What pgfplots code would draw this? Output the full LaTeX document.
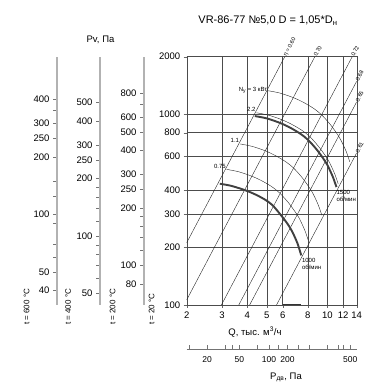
\documentclass[border=0pt]{standalone}
\usepackage{pgfplots}
\pgfplotsset{compat=1.18}
\usepackage{fontspec}
\setmainfont{Liberation Sans}
\pgfplotsset{
  auxaxis/.style={
    scale only axis, width=1pt, height=248.3pt, anchor=south west,
    xmin=0, xmax=1,
    axis x line=none, axis y line=left,
    y axis line style={-, draw=black!30, line width=1.1pt},
    tick align=outside, major tick length=4pt, minor tick length=4pt,
    tick style={black!55, line width=0.5pt},
    minor tick style={black!55, line width=0.5pt},
    yticklabel style={font=\fontsize{9.5}{10}\selectfont, black},
  }
}
\begin{document}
\begin{tikzpicture}[x=1pt,y=1pt]
\useasboundingbox (0,0) rectangle (388,391);
% t = 600 C
\begin{axis}[ymode=log, auxaxis, at={(57pt,86pt)}, ymin=33.56, ymax=671.2,
  ytick={40,50,100,200,250,300,400}, yticklabels={40,50,100,200,250,300,400},
  minor ytick={60,70,90,125,150,350}]
\end{axis}
% t = 400 C
\begin{axis}[ymode=log, auxaxis, at={(100pt,86pt)}, ymin=43.54, ymax=870.7,
  ytick={50,100,200,250,300,400,500}, yticklabels={50,100,200,250,300,400,500},
  minor ytick={60,70,80,90,120,140,160,180}]
\end{axis}
% t = 200 C
\begin{axis}[ymode=log, auxaxis, at={(144pt,86pt)}, ymin=61.95, ymax=1239,
  ytick={80,100,200,250,300,400,500,600,800}, yticklabels={80,100,200,250,300,400,500,600,800},
  minor ytick={120,140,160,180,700}]
\end{axis}
% main chart (t = 20 C)
\begin{axis}[
  at={(186.7pt,86pt)}, anchor=south west, scale only axis,
  width=170pt, height=248.3pt,
  xmode=log, ymode=log, xmin=2, xmax=14, ymin=100, ymax=2000,
  xtick={2,3,4,5,6,8,10,12,14}, xticklabels={2,3,4,5,6,8,10,12,14},
  ytick={100,200,300,400,600,800,1000,2000}, yticklabels={100,200,300,400,600,800,1000,2000},
  grid=major, major grid style={black!70, line width=0.4pt},
  axis line style={black!70, line width=0.4pt},
  xtick pos=bottom, ytick pos=left, tick align=outside, major tick length=3pt,
  tick style={black!60},
  ticklabel style={font=\fontsize{9.5}{10}\selectfont},
  clip mode=individual,
]
% efficiency rays
\addplot[black!85, line width=0.4pt] coordinates {(2,212) (6.143,2000)};
\addplot[black!85, line width=0.4pt] coordinates {(2,106.4) (8.67,2000)};
\addplot[black!85, line width=0.4pt] coordinates {(2.975,100) (13.30,2000)};
\addplot[black!85, line width=0.4pt] coordinates {(3.63,100) (14,1488)};
\addplot[black!85, line width=0.4pt] coordinates {(4.11,100) (14,1160)};
\addplot[black!85, line width=0.4pt] coordinates {(5.59,100) (14,627)};
\begin{scope}[every node/.style={rotate=62, anchor=west, inner sep=0.6pt, font=\fontsize{5.6}{6}\selectfont}]
\node at (axis cs:6.143,2000) {η = 0.60};
\node at (axis cs:8.67,2000) {0.70};
\node at (axis cs:13.30,2000) {0.72};
\node at (axis cs:14,1488) {0.68};
\node at (axis cs:14,1160) {0.65};
\node at (axis cs:14,627) {0.61};
\end{scope}
% thin power curves
\addplot[black!85, line width=0.4pt, smooth] coordinates {
 (5.08,1326) (5.825,1289) (6.77,1221) (7.57,1156) (8.50,1076) (9.32,997)
 (10.29,889) (11.07,801) (11.65,735) (12.41,638) (12.93,563)};
\addplot[black!85, line width=0.4pt, smooth] coordinates {
 (4.447,1016) (5.10,988) (5.926,936) (6.63,886) (7.446,825) (8.16,765)
 (9.007,681) (9.69,614) (10.2,564) (10.863,489) (11.322,432)};
\addplot[black!85, line width=0.4pt, smooth] coordinates {
 (3.684,698) (4.225,678) (4.909,643) (5.493,608) (6.169,566) (6.76,525)
 (7.461,468) (8.028,421) (8.45,387) (9.0,336) (9.38,296)};
\addplot[black!85, line width=0.4pt, smooth] coordinates {
 (3.161,513.5) (3.625,499) (4.212,473) (4.713,448) (5.293,417) (5.80,386)
 (6.402,344) (6.888,310) (7.25,285) (7.721,247) (8.048,218)};
% thick fan curves
\addplot[black!75, line width=1.9pt, smooth] coordinates {
 (4.36,977) (5.0,950) (5.81,900) (6.5,852) (7.3,793) (8.0,735)
 (8.83,655) (9.5,590) (10.0,542) (10.65,470) (11.1,415)};
\addplot[black!75, line width=1.9pt, smooth] coordinates {
 (2.92,432) (3.33,421) (3.89,400) (4.33,382) (4.87,358) (5.33,334)
 (5.89,295) (6.33,267) (6.67,244) (7.10,211) (7.42,182)};
\addplot[black!80, line width=1.2pt] coordinates {(6,100) (7.4,100)};
% curve labels
\begin{scope}[every node/.style={inner sep=0.8pt, font=\fontsize{6}{7}\selectfont}]
\node[anchor=east] at (axis cs:5.08,1326) {N\textsubscript{y} = 3 кВт};
\node[anchor=south east] at (axis cs:4.447,1016) {2.2};
\node[anchor=south east] at (axis cs:3.684,698) {1.1};
\node[anchor=south east] at (axis cs:3.161,513.5) {0.75};
\node[anchor=north west, align=left] at (axis cs:11.0,405) {1500\\об/мин};
\node[anchor=north west, align=left] at (axis cs:7.40,178) {1000\\об/мин};
\end{scope}
\end{axis}
% bottom dynamic pressure scale
\begin{axis}[
  at={(186.7pt,42pt)}, anchor=south west, scale only axis, width=170pt, height=1pt,
  xmode=log, xmin=2, xmax=14, ymin=0, ymax=1,
  axis y line=none, axis x line=bottom,
  x axis line style={-, draw=black!55, line width=0.5pt},
  xtick={2.523,3.654,5.134,6.346,12.99}, xticklabels={20,50,100,200,500},
  minor xtick={2.06,3.10,3.35,4.46,5.71,7.18,8.15,9.94,11.36,12.03},
  tick align=inside, major tick length=4pt, minor tick length=4pt,
  tick style={black!55, line width=0.5pt},
  minor tick style={black!55, line width=0.5pt},
  xticklabel style={font=\fontsize{8.5}{9}\selectfont, yshift=-4pt},
]
\end{axis}
% texts
\node[font=\fontsize{11}{12}\selectfont] at (268,370.5) {VR-86-77 №5,0 D = 1,05*D\textsubscript{н}};
\node[font=\fontsize{9.5}{10}\selectfont] at (100.5,351) {Pv, Па};
\node[font=\fontsize{9.5}{10}\selectfont] at (255,59) {Q, тыс. м\textsuperscript{3}/ч};
\node[font=\fontsize{9.5}{10}\selectfont] at (286,14) {P\textsubscript{дв}, Па};
\begin{scope}[every node/.style={rotate=90, anchor=west, font=\fontsize{8}{9}\selectfont, inner sep=0pt}]
\node at (26.5,66) {t = 600 °C};
\node at (68,66) {t = 400 °C};
\node at (112.5,66) {t = 200 °C};
\node at (151.5,66) {t = 20 °C};
\end{scope}
\end{tikzpicture}
\end{document}
